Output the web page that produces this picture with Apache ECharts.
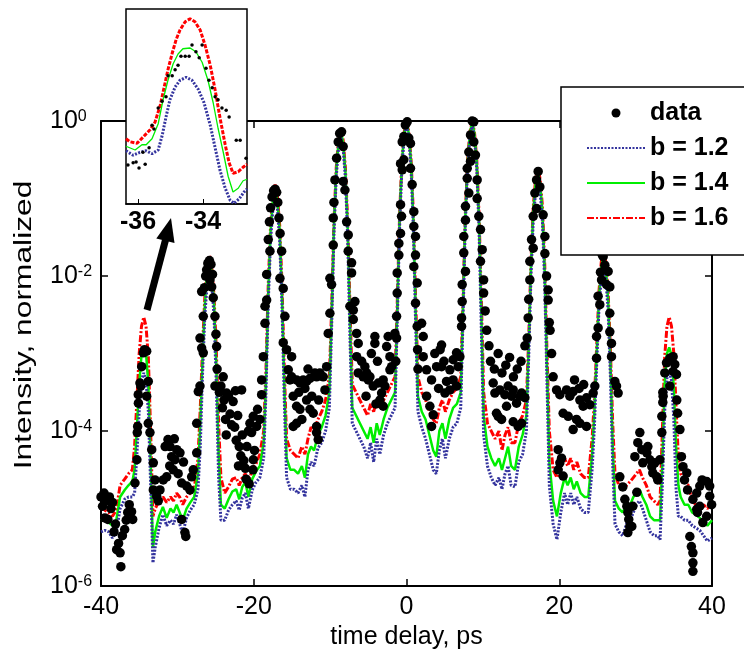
<!DOCTYPE html>
<html><head><meta charset="utf-8">
<script src="https://cdn.jsdelivr.net/npm/echarts@6/dist/echarts.min.js"></script>
<style>html,body{margin:0;padding:0;background:#fff;}#c{width:744px;height:655px;}</style>
</head><body><div id="c"></div>
<script>
// ---------------- data (time in ps, intensity given as log10 of normalized intensity) ----------------
const xTickValues = [-40, -20, 0, 20, 40];
const insetTickValues = [-36, -34];

const fitT = [
-40,-39.5,-39,-38.5,-38,-37.5,-36.9,
-36.4,-35.9,-35.6,-35.3,-35.0,-34.7,-34.4,-34.1,-33.8,-33.5,-33.2,-32.9,-32.4,
-31.9,-31.4,-30.9,-30.5,-30.1,-29.7,-29.3,-28.8,-28.3,
-27.8,-27.3,-27.0,-26.7,-26.4,-26.1,-25.8,-25.5,-25.2,-24.9,-24.6,-24.3,-23.8,
-23.3,-22.8,-22.3,-21.9,-21.5,-21.1,-20.7,-20.2,-19.7,
-19.2,-18.7,-18.4,-18.1,-17.8,-17.5,-17.2,-16.9,-16.6,-16.3,-16.0,-15.7,-15.2,
-14.7,-14.2,-13.7,-13.3,-12.9,-12.5,-12.1,-11.6,-11.1,
-10.6,-10.1,-9.8,-9.5,-9.2,-8.9,-8.6,-8.3,-8.0,-7.7,-7.4,-7.1,-6.6,
-6.1,-5.6,-5.1,-4.7,-4.3,-3.9,-3.5,-3.0,-2.5,
-2.0,-1.5,-1.2,-0.9,-0.6,-0.3,0,0.3,0.6,0.9,1.2,1.5,2.0,
2.5,3.0,3.5,3.9,4.3,4.7,5.1,5.6,6.1,
6.6,7.1,7.4,7.7,8.0,8.3,8.6,8.9,9.2,9.5,9.8,10.1,10.6,
11.1,11.6,12.1,12.5,12.9,13.3,13.7,14.2,14.7,
15.2,15.7,16.0,16.3,16.6,16.9,17.2,17.5,17.8,18.1,18.4,18.7,19.2,
19.7,20.2,20.7,21.1,21.5,21.9,22.3,22.8,23.3,
23.8,24.3,24.6,24.9,25.2,25.5,25.8,26.1,26.4,26.7,27.0,27.3,27.8,
28.3,28.8,29.3,29.7,30.1,30.5,30.9,31.4,31.9,
32.4,32.9,33.2,33.5,33.8,34.1,34.4,34.7,35.0,35.3,35.6,35.9,36.4,
36.9,37.4,37.9,38.4,38.9,39.4,40
];

const fitB16 = [
-4.98,-5.02,-5.05,-5.1,-5.02,-4.7,-4.62,
-4.55,-4.5,-4.2,-3.6,-3.0,-2.65,-2.53,-2.65,-3.05,-4.0,-5.1,-5.0,-4.9,
-4.85,-4.92,-4.85,-4.9,-4.8,-4.85,-4.95,-4.85,-4.8,
-4.75,-4.35,-3.7,-2.9,-2.25,-1.88,-1.73,-1.88,-2.25,-2.95,-3.9,-4.6,-4.8,
-4.72,-4.62,-4.6,-4.7,-4.6,-4.55,-4.68,-4.5,-4.42,
-4.3,-4.0,-3.2,-2.1,-1.35,-0.98,-0.82,-0.98,-1.35,-2.1,-3.2,-4.1,-4.25,
-4.3,-4.35,-4.2,-4.3,-4.1,-3.95,-4.0,-3.85,-3.75,
-3.6,-3.3,-2.4,-1.3,-0.6,-0.24,-0.1,-0.24,-0.6,-1.3,-2.4,-3.4,-3.5,
-3.6,-3.7,-3.8,-3.65,-3.75,-3.6,-3.7,-3.6,-3.5,
-3.4,-3.3,-2.3,-1.2,-0.5,-0.14,0,-0.14,-0.5,-1.2,-2.3,-3.3,-3.5,
-3.6,-3.75,-3.85,-3.9,-3.7,-3.6,-3.75,-3.6,-3.5,
-3.45,-3.3,-2.3,-1.2,-0.5,-0.14,0,-0.14,-0.5,-1.2,-2.3,-3.5,-3.9,
-4.0,-4.1,-4.0,-4.25,-4.05,-3.95,-4.15,-4.15,-3.9,
-3.8,-3.6,-2.8,-1.8,-1.1,-0.75,-0.6,-0.75,-1.1,-1.85,-3.0,-4.0,-4.5,
-4.6,-4.45,-4.35,-4.45,-4.35,-4.5,-4.4,-4.55,-4.6,
-4.6,-4.1,-3.6,-2.9,-2.2,-1.82,-1.65,-1.82,-2.2,-2.95,-3.9,-4.55,-4.7,
-4.75,-4.7,-4.65,-4.6,-4.55,-4.5,-4.6,-4.7,-4.85,
-4.9,-4.95,-4.9,-4.0,-3.05,-2.65,-2.53,-2.65,-3.0,-3.7,-4.35,-4.55,-4.65,
-4.7,-4.9,-4.95,-5.0,-4.95,-5.0,-4.92
];

const fitB14 = [
-5.15,-5.12,-5.18,-5.22,-5.15,-4.85,-4.76,
-4.7,-4.65,-4.5,-3.95,-3.4,-3.02,-2.92,-3.0,-3.4,-4.4,-5.5,-5.3,-5.1,
-4.98,-5.12,-5.0,-5.05,-4.95,-5.05,-5.15,-5.0,-4.92,
-4.85,-4.55,-3.9,-3.05,-2.35,-1.95,-1.8,-1.95,-2.35,-3.15,-4.3,-4.95,-5.0,
-4.88,-4.78,-4.75,-4.88,-4.72,-4.66,-4.85,-4.62,-4.52,
-4.45,-4.15,-3.35,-2.2,-1.42,-1.04,-0.88,-1.04,-1.42,-2.25,-3.4,-4.35,-4.5,
-4.5,-4.55,-4.45,-4.6,-4.3,-4.2,-4.25,-4.05,-3.95,
-3.8,-3.5,-2.5,-1.36,-0.64,-0.28,-0.13,-0.28,-0.65,-1.38,-2.6,-3.7,-3.8,
-3.9,-4.0,-4.1,-3.95,-4.15,-3.9,-4.05,-3.85,-3.7,
-3.6,-3.5,-2.4,-1.25,-0.53,-0.16,-0.01,-0.16,-0.54,-1.28,-2.45,-3.55,-3.75,
-3.85,-4.05,-4.25,-4.33,-4.0,-3.9,-4.1,-3.85,-3.7,
-3.65,-3.5,-2.4,-1.25,-0.53,-0.16,-0.01,-0.16,-0.54,-1.28,-2.5,-3.8,-4.2,
-4.35,-4.45,-4.35,-4.5,-4.35,-4.2,-4.45,-4.5,-4.2,
-4.05,-3.8,-2.9,-1.87,-1.16,-0.81,-0.66,-0.81,-1.17,-1.95,-3.2,-4.4,-4.9,
-5.1,-4.8,-4.6,-4.7,-4.6,-4.75,-4.65,-4.8,-4.85,
-4.85,-4.3,-3.75,-3.0,-2.28,-1.9,-1.72,-1.9,-2.3,-3.1,-4.2,-4.9,-5.0,
-5.05,-4.95,-4.95,-4.85,-4.8,-4.75,-4.85,-4.95,-5.1,
-5.15,-5.15,-5.15,-4.4,-3.4,-3.0,-2.92,-3.02,-3.45,-4.2,-4.7,-4.85,-4.95,
-4.95,-5.05,-5.08,-5.12,-5.18,-5.22,-5.15
];

const fitB12 = [
-5.3,-5.28,-5.3,-5.38,-5.3,-5.0,-4.88,
-4.85,-4.85,-4.8,-4.3,-3.75,-3.35,-3.25,-3.35,-3.75,-4.7,-5.7,-5.5,-5.25,
-5.08,-5.22,-5.15,-5.2,-5.08,-5.2,-5.32,-5.12,-5.02,
-4.95,-4.75,-4.2,-3.25,-2.5,-2.1,-1.95,-2.1,-2.52,-3.4,-4.6,-5.15,-5.15,
-5.02,-4.95,-4.9,-5.02,-4.86,-4.8,-5.0,-4.76,-4.66,
-4.6,-4.35,-3.5,-2.35,-1.55,-1.14,-0.98,-1.14,-1.56,-2.4,-3.6,-4.6,-4.75,
-4.75,-4.8,-4.7,-4.85,-4.5,-4.4,-4.45,-4.22,-4.15,
-4.0,-3.7,-2.65,-1.46,-0.72,-0.35,-0.2,-0.35,-0.74,-1.5,-2.8,-3.9,-4.0,
-4.1,-4.2,-4.35,-4.15,-4.4,-4.1,-4.3,-4.05,-3.9,
-3.8,-3.7,-2.55,-1.35,-0.6,-0.21,-0.05,-0.21,-0.62,-1.4,-2.65,-3.75,-3.95,
-4.1,-4.3,-4.5,-4.55,-4.25,-4.1,-4.35,-4.1,-3.95,
-3.9,-3.7,-2.55,-1.35,-0.6,-0.21,-0.05,-0.21,-0.62,-1.4,-2.7,-4.05,-4.45,
-4.6,-4.7,-4.6,-4.75,-4.55,-4.45,-4.7,-4.72,-4.4,
-4.3,-4.0,-3.05,-2.0,-1.28,-0.92,-0.76,-0.92,-1.3,-2.1,-3.4,-4.7,-5.2,
-5.4,-5.05,-4.8,-4.95,-4.8,-4.95,-4.85,-5.0,-5.05,
-5.05,-4.5,-3.95,-3.15,-2.42,-2.02,-1.85,-2.03,-2.45,-3.3,-4.45,-5.2,-5.3,
-5.35,-5.2,-5.15,-5.05,-4.95,-4.9,-5.0,-5.15,-5.3,
-5.35,-5.35,-5.4,-4.7,-3.75,-3.32,-3.22,-3.35,-3.85,-4.75,-5.1,-5.1,-5.15,
-5.15,-5.22,-5.25,-5.28,-5.35,-5.42,-5.38
];

// measured points: [time (ps), log10 intensity]
const measuredPts = [
[-40.0,-4.85],[-39.8,-4.97],[-39.6,-4.8],[-39.5,-5.12],[-39.3,-4.9],[-39.1,-5.14],[-38.9,-4.85],[-38.7,-5.0],[-38.5,-4.92],[-38.3,-5.3],[-38.1,-5.2],[-37.95,-5.53],[-37.7,-5.45],[-37.5,-5.57],[-37.4,-5.75],[-37.2,-5.35],[-36.9,-5.27],[-36.7,-5.15],[-36.5,-5.05],[-36.3,-4.95],[-36.0,-5.04],[-35.85,-5.14],[-35.55,-4.67],[-35.3,-4.37],[-35.25,-4.02],[-35.2,-3.94],[-35.12,-3.53],[-35.1,-3.64],[-34.9,-3.38],[-34.8,-3.42],[-34.67,-3.17],[-34.46,-2.99],[-34.3,-2.95],[-34.02,-2.97],[-34.02,-3.55],[-33.81,-3.36],
[-33.81,-3.9],[-33.59,-4.02],[-33.36,-4.24],[-33.15,-4.41],[-33.15,-4.76],[-32.93,-4.63],[-32.71,-4.84],[-32.5,-4.9],[-32.28,-4.76],[-31.85,-4.63],[-31.6,-4.2],[-31.4,-4.59],[-31.23,-4.11],[-31.0,-4.45],[-30.97,-4.2],[-30.75,-4.33],[-30.54,-4.5],[-30.4,-4.1],[-30.31,-4.37],[-30.09,-4.24],[-29.9,-4.55],[-29.66,-4.28],[-29.44,-4.67],[-29.44,-5.14],[-29.2,-4.4],[-29.01,-5.31],[-28.9,-5.36],[-28.78,-4.71],[-28.35,-4.76],[-28.13,-4.59],[-27.92,-4.5],[-27.47,-4.28],[-27.47,-3.9],[-27.26,-3.49],
[-27.04,-3.42],[-27.04,-2.8],[-26.82,-2.93],[-26.82,-2.2],[-26.61,-2.52],[-26.61,-2.99],[-26.45,-2.15],[-26.3,-2.0],[-26.17,-1.92],[-26.0,-1.84],[-25.96,-1.83],[-25.8,-1.8],[-25.73,-2.05],[-25.6,-1.85],[-25.51,-2.14],[-25.4,-1.98],[-25.3,-2.28],[-25.08,-2.52],[-25.08,-3.42],[-24.95,-2.75],[-24.86,-2.91],[-24.8,-3.2],
[-24.5,-3.5],[-24.3,-3.42],[-24.1,-3.7],[-24.0,-3.3],[-23.9,-3.6],[-23.7,-3.85],[-23.6,-4.05],[-23.55,-3.51],[-23.3,-3.55],[-23.1,-3.78],[-22.9,-3.92],[-22.7,-3.62],[-22.5,-3.95],[-22.4,-3.48],[-22.3,-4.12],[-22.1,-3.8],[-22.0,-4.45],[-21.9,-4.2],[-21.7,-4.32],[-21.59,-3.47],[-21.5,-4.05],[-21.3,-4.38],[-21.1,-4.48],[-21.0,-4.62],[-20.9,-4.2],[-20.7,-4.0],[-20.6,-4.68],[-20.5,-3.9],[-20.28,-4.02],[-20.1,-4.5],[-20.06,-3.81],[-20.06,-4.37],[-19.9,-4.25],[-19.62,-3.94],[-19.5,-3.72],[-19.19,-3.85],
[-18.97,-3.34],[-18.97,-3.53],[-18.75,-3.04],[-18.53,-2.61],[-18.53,-2.39],[-18.31,-2.31],[-18.31,-1.98],[-18.1,-1.53],[-17.95,-1.3],[-17.88,-1.68],[-17.8,-1.12],[-17.6,-0.98],[-17.4,-0.9],[-17.2,-0.88],[-17.0,-0.92],[-16.85,-1.05],[-16.7,-1.25],[-16.55,-1.45],[-16.35,-1.68],[-16.57,-2.03],[-16.14,-2.16],[-15.92,-2.52],[-16.14,-2.86],[-15.7,-2.95],[-15.04,-3.04],[-15.26,-3.34],
[-15.48,-3.21],[-15.04,-3.3],[-14.39,-3.34],[-13.95,-3.38],[-13.52,-3.34],[-13.08,-3.36],[-12.64,-3.32],[-11.77,-3.3],[-11.34,-3.25],[-10.9,-3.3],[-14.83,-3.55],[-14.39,-3.68],[-13.95,-3.72],[-13.08,-3.6],[-12.64,-3.72],[-12.21,-3.77],[-11.77,-3.94],[-11.77,-4.02],[-14.39,-3.9],[-14.83,-3.94],[-11.56,-4.11],[-10.68,-3.47],[-10.46,-3.17],[-14.1,-3.5],[-13.3,-3.45],[-12.9,-3.2],[-12.4,-3.55],[-12.0,-3.25],[-13.7,-3.85],[-11.5,-3.6],
[-10.25,-2.74],[-10.03,-2.48],[-10.03,-2.03],[-9.81,-2.11],[-9.59,-1.6],[-9.59,-1.25],[-9.37,-0.76],[-9.5,-1.05],[-9.15,-0.48],[-8.94,-0.27],[-8.75,-0.16],[-8.5,-0.14],[-8.29,-0.33],[-8.29,-0.78],[-8.06,-0.89],[-7.84,-1.3],[-7.63,-1.47],[-7.63,-1.68],[-7.19,-1.83],[-7.19,-1.96],[-6.97,-2.44],[-6.75,-2.33],[-7.41,-2.39],[-6.97,-2.56],[-6.53,-2.74],
[-6.32,-2.87],[-6.53,-3.04],[-5.88,-3.1],[-5.45,-3.17],[-5.67,-3.3],[-5.0,-3.34],[-6.32,-3.25],[-4.14,-2.78],[-4.14,-2.87],[-2.6,-2.91],[-2.4,-2.78],[-2.17,-3.04],[-1.95,-3.17],[-2.17,-3.21],[-3.05,-3.34],[-2.83,-3.42],[-3.26,-3.51],[-3.48,-3.6],[-3.05,-3.68],[-3.7,-3.38],[-4.36,-3.42],[-4.79,-3.3],[-5.22,-3.25],[-4.6,-3.0],[-3.8,-3.1],[-5.3,-3.55],[-4.0,-3.65],
[-1.52,-2.74],[-1.3,-2.52],[-1.22,-2.22],[-1.22,-1.96],[-1.4,-3.1],[-1.3,-2.8],[-1.0,-1.73],[-1.0,-1.58],[-0.78,-1.45],[-0.78,-1.08],[-0.65,-1.23],[-0.78,-0.55],[-0.56,-0.63],[-0.56,-0.27],[-0.35,-0.5],[-0.35,-0.2],[-0.15,-0.05],[0.09,-0.01],[0.3,-0.22],[0.52,-0.29],[0.52,-0.61],[0.74,-0.82],[0.96,-1.17],[0.96,-1.36],[1.18,-1.49],[1.18,-1.73],[0.96,-1.88],[1.4,-2.09],[1.18,-2.35],[1.4,-2.65],[1.45,-2.95],[1.5,-3.2],
[1.98,-2.61],[2.19,-2.78],[2.19,-3.04],[2.63,-3.21],[3.28,-3.34],[3.94,-3.17],[4.59,-3.17],[4.59,-2.89],[4.4,-2.95],[5.68,-3.21],[6.11,-3.08],[6.55,-2.99],[6.77,-3.17],[6.99,-3.04],[6.11,-3.34],[6.55,-3.42],[5.24,-3.36],[5.68,-3.47],[5.03,-3.51],[2.63,-3.55],[3.06,-3.68],[3.5,-3.79],[3.28,-3.94],[3.7,-3.0],[4.2,-3.45],[4.9,-3.1],
[7.21,-2.65],[7.21,-2.54],[7.29,-2.33],[7.29,-2.11],[7.5,-1.7],[7.5,-1.49],[7.72,-1.94],[7.72,-1.28],[7.72,-1.1],[7.95,-0.61],[7.95,-0.74],[8.16,-0.93],[8.16,-0.4],[8.38,-0.18],[8.38,-0.52],[8.6,0],[8.81,-0.01],[8.81,-0.27],[9.03,-0.44],[9.25,-0.76],[9.25,-1.0],[9.47,-1.23],[9.69,-1.4],[9.69,-1.81],[9.91,-1.66],[10.1,-2.05],[10.1,-2.22],[10.3,-2.45],[10.5,-2.7],
[11.35,-3.38],[11.57,-3.51],[12.23,-3.47],[12.88,-3.53],[13.31,-3.42],[13.76,-3.55],[13.97,-3.47],[14.41,-3.64],[14.84,-3.55],[15.07,-3.51],[15.5,-3.57],[11.78,-3.77],[12.0,-3.81],[12.45,-3.85],[13.97,-3.88],[14.62,-3.94],[15.07,-3.9],[13.1,-3.68],[11.0,-3.1],[11.5,-3.2],[12.0,-3.0],[12.5,-3.25],[13.0,-3.15],[13.5,-3.05],[14.0,-3.3],[14.5,-3.2],[15.0,-3.1],[10.8,-2.9],
[15.5,-2.9],[15.93,-2.54],[15.8,-2.8],[16.15,-2.05],[16.15,-1.81],[16.37,-1.53],[16.59,-1.64],[16.59,-1.23],[16.81,-0.93],[17.03,-0.76],[17.03,-1.13],[17.24,-0.65],[17.46,-0.85],[17.89,-1.21],[18.12,-1.49],[18.12,-1.71],[18.34,-2.0],[18.55,-2.18],[18.55,-2.31],[18.7,-2.6],[18.8,-2.7],[19.0,-3.0],[19.2,-3.3],[16.0,-2.3],
[19.65,-3.47],[20.08,-3.53],[20.96,-3.47],[21.39,-3.55],[21.82,-3.49],[22.7,-3.6],[23.13,-3.68],[23.57,-3.57],[24.0,-3.66],[24.44,-3.51],[20.51,-3.77],[21.17,-3.81],[22.26,-3.85],[22.7,-3.9],[23.57,-3.94],[21.82,-3.98],[19.86,-4.24],[20.3,-4.35],[20.08,-4.41],[20.51,-4.58],[19.86,-4.5],[22.0,-3.34],[22.6,-3.45],[23.2,-3.4],
[24.66,-3.42],[24.88,-3.06],[24.88,-2.78],[25.09,-2.67],[25.09,-2.26],[25.31,-2.37],[25.4,-1.95],[25.54,-2.05],[25.6,-1.72],[25.75,-1.75],[25.97,-1.86],[26.19,-2.11],[26.4,-1.94],[26.62,-2.14],[26.62,-2.48],[26.62,-2.72],[26.84,-2.87],[26.84,-3.04],[27.28,-3.36],[27.5,-3.42],[27.71,-3.51],
[27.93,-4.59],[28.32,-4.72],[28.59,-4.88],[28.85,-4.97],[28.98,-5.05],[29.1,-5.14],[29.24,-5.23],[28.98,-5.31],[29.5,-5.23],[29.63,-4.97],[30.16,-4.79],[29.9,-4.33],[30.29,-4.15],[30.55,-4.02],[30.81,-4.24],[30.94,-4.41],[31.47,-4.28],[31.6,-4.2],[31.86,-4.37],[32.12,-4.46],[32.25,-4.54],[32.51,-4.41],[32.77,-4.59],[32.9,-4.63],[33.17,-4.37],[33.43,-4.02],[33.43,-3.81],[33.56,-3.63],[33.56,-3.5],
[33.6,-3.55],[33.82,-3.25],[34.04,-3.12],[34.48,-3.06],[34.91,-3.04],[35.13,-3.14],[34.91,-3.23],[35.35,-3.27],[34.48,-3.42],[35.39,-3.6],[35.5,-3.77],[35.8,-3.98],[36.0,-4.33],[36.2,-4.46],[36.7,-4.54],[36.4,-4.63],[36.8,-4.76],[37.5,-4.88],[38.0,-4.8],[38.4,-4.71],[38.7,-4.63],[39.3,-4.65],[39.7,-4.71],[39.95,-4.95],[39.7,-4.84],[38.4,-4.97],[38.0,-5.01],[37.1,-5.36],[37.3,-5.49],[37.5,-5.57],[37.5,-5.7],[37.5,-5.81],[39.3,-5.1],[38.8,-5.18],[38.1,-5.05]
];

// inset (zoom of the first satellite peak): [time (ps), log10 intensity]
const insetB16 = [[-36.37,-4.13],[-36.25,-4.17],[-36.03,-4.19],[-35.85,-4.11],[-35.63,-4.01],[-35.48,-3.91],[-35.32,-3.69],[-35.2,-3.45],[-35.08,-3.21],[-34.95,-2.99],[-34.83,-2.81],[-34.71,-2.68],[-34.55,-2.57],[-34.4,-2.53],[-34.25,-2.57],[-34.09,-2.68],[-33.94,-2.88],[-33.78,-3.15],[-33.63,-3.48],[-33.48,-3.85],[-33.32,-4.21],[-33.2,-4.45],[-33.08,-4.59],[-32.92,-4.57],[-32.77,-4.51],[-32.65,-4.47]];
const insetB14 = [[-36.37,-4.23],[-36.09,-4.28],[-35.88,-4.21],[-35.75,-4.21],[-35.57,-4.13],[-35.38,-3.93],[-35.23,-3.61],[-35.08,-3.35],[-34.92,-3.13],[-34.77,-3.0],[-34.62,-2.93],[-34.4,-2.92],[-34.22,-2.97],[-34.03,-3.11],[-33.85,-3.35],[-33.69,-3.65],[-33.54,-3.99],[-33.38,-4.31],[-33.23,-4.63],[-33.08,-4.84],[-32.92,-4.79],[-32.77,-4.69],[-32.65,-4.67]];
const insetB12 = [[-36.37,-4.29],[-36.15,-4.35],[-35.94,-4.31],[-35.75,-4.29],[-35.57,-4.33],[-35.38,-4.28],[-35.26,-4.09],[-35.14,-3.84],[-35.02,-3.61],[-34.86,-3.44],[-34.71,-3.35],[-34.52,-3.31],[-34.34,-3.35],[-34.15,-3.47],[-33.97,-3.65],[-33.78,-3.95],[-33.63,-4.25],[-33.48,-4.55],[-33.32,-4.79],[-33.17,-4.95],[-33.05,-4.99],[-32.89,-4.93],[-32.74,-4.84],[-32.65,-4.8]];
const insetMeasured = [[-36.31,-4.48],[-36.15,-4.45],[-36.06,-4.44],[-35.97,-4.52],[-35.78,-4.47],[-35.85,-4.31],[-35.66,-4.25],[-35.57,-3.95],[-35.51,-4.0],[-35.38,-3.72],[-35.26,-3.63],[-35.14,-3.57],[-35.08,-3.29],[-34.95,-3.29],[-34.86,-3.21],[-34.77,-3.15],[-34.68,-3.03],[-34.55,-3.03],[-34.43,-3.03],[-34.34,-2.88],[-34.22,-2.97],[-34.12,-3.05],[-34.03,-2.88],[-33.91,-3.19],[-33.82,-3.35],[-33.72,-3.45],[-33.63,-3.57],[-33.54,-3.61],[-33.42,-3.72],[-33.29,-3.75],[-33.2,-3.84],[-32.98,-4.15],[-32.86,-4.15],[-32.68,-4.39]];

// ---------------- chart ----------------
const FONT = '"Liberation Sans", Arial, Helvetica, sans-serif';
const pow10 = e => Math.pow(10, e);
const fromFit = arr => fitT.map((t, i) => [t, pow10(arr[i])]);
const fromPairs = arr => arr.map(p => [p[0], pow10(p[1])]);

const RED = '#ff0000', GREEN = '#00ee00', BLUE = '#34349e';
const axisLineStyle = {color: '#000', width: 2};
const tickStyle = {color: '#000', width: 1.5};

const chart = echarts.init(document.getElementById('c'));
chart.setOption({
  animation: false,
  backgroundColor: '#fff',
  textStyle: {fontFamily: FONT},
  grid: [
    {left: 101, top: 121, width: 611, height: 466, show: false},
    {left: 126, top: 9, width: 121, height: 195, show: true, backgroundColor: '#fff',
     borderColor: '#000', borderWidth: 1.5, z: 10}
  ],
  xAxis: [
    {gridIndex: 0, type: 'value', min: -40, max: 40, interval: 20, position: 'bottom',
     axisLine: {onZero: false, lineStyle: axisLineStyle},
     axisTick: {inside: true, length: 7, lineStyle: tickStyle},
     axisLabel: {fontSize: 25, color: '#000', fontFamily: FONT, margin: 9,
                 customValues: xTickValues},
     splitLine: {show: false},
     name: 'time delay, ps', nameLocation: 'middle', nameGap: 33,
     nameTextStyle: {fontSize: 25, color: '#000', fontFamily: FONT}},
    {gridIndex: 0, type: 'value', min: -40, max: 40, interval: 20, position: 'top',
     axisLine: {onZero: false, lineStyle: axisLineStyle},
     axisTick: {inside: true, length: 7, lineStyle: tickStyle},
     axisLabel: {show: false}, splitLine: {show: false}},
    {gridIndex: 1, type: 'value', min: -36.37, max: -32.65, position: 'bottom', z: 11,
     axisLine: {onZero: false, lineStyle: {color: '#000', width: 1.5}},
     axisTick: {inside: true, length: 5, lineStyle: {color: '#000', width: 1}, customValues: insetTickValues},
     axisLabel: {customValues: insetTickValues, fontSize: 25, fontWeight: 'bold', color: '#000',
                 fontFamily: FONT, margin: 6},
     splitLine: {show: false}}
  ],
  yAxis: [
    {gridIndex: 0, type: 'log', logBase: 100, min: 1e-6, max: 1, position: 'left',
     axisLine: {onZero: false, lineStyle: axisLineStyle},
     axisTick: {inside: true, length: 7, lineStyle: tickStyle},
     splitLine: {show: false}, minorTick: {show: false},
     axisLabel: {
       align: 'left', margin: 51,
       formatter: v => '{b|10}{s|' + Math.round(Math.log10(v)) + '}',
       rich: {
         b: {fontSize: 25, fontFamily: FONT, color: '#000', lineHeight: 25, padding: [0, 0, 6, 0], verticalAlign: 'top'},
         s: {fontSize: 16, fontFamily: FONT, color: '#000', lineHeight: 4, verticalAlign: 'top'}
       }
     }},
    {gridIndex: 0, type: 'log', logBase: 100, min: 1e-6, max: 1, position: 'right',
     axisLine: {onZero: false, lineStyle: axisLineStyle},
     axisTick: {inside: true, length: 7, lineStyle: tickStyle},
     axisLabel: {show: false}, splitLine: {show: false}},
    {gridIndex: 1, type: 'log', min: pow10(-5), max: pow10(-2.4), show: false}
  ],
  legend: {
    left: 561, top: 87, orient: 'vertical',
    padding: [12, 40, 23, 25], itemGap: 7, itemWidth: 58, itemHeight: 9,
    backgroundColor: '#fff', borderColor: '#000', borderWidth: 1.5,
    textStyle: {fontSize: 25, fontWeight: 'bold', color: '#000', fontFamily: FONT, lineHeight: 28},
    data: ['data', 'b = 1.2', 'b = 1.4', 'b = 1.6'],
    z: 8
  },
  series: [
    {name: 'b = 1.6', type: 'line', xAxisIndex: 0, yAxisIndex: 0, data: fromFit(fitB16),
     symbol: 'none', itemStyle: {color: 'rgba(0,0,0,0)'},
     lineStyle: {color: RED, width: 3, type: [7, 2, 2, 2]}, z: 2},
    {name: 'b = 1.4', type: 'line', xAxisIndex: 0, yAxisIndex: 0, data: fromFit(fitB14),
     symbol: 'none', itemStyle: {color: 'rgba(0,0,0,0)'},
     lineStyle: {color: GREEN, width: 2.5}, z: 2},
    {name: 'b = 1.2', type: 'line', xAxisIndex: 0, yAxisIndex: 0, data: fromFit(fitB12),
     symbol: 'none', itemStyle: {color: 'rgba(0,0,0,0)'},
     lineStyle: {color: BLUE, width: 3, type: [2, 1.5]}, z: 2},
    {name: 'data', type: 'scatter', xAxisIndex: 0, yAxisIndex: 0, data: fromPairs(measuredPts),
     symbol: 'circle', symbolSize: 9.5, itemStyle: {color: '#000', opacity: 1}, z: 3},

    {name: 'b = 1.6', type: 'line', xAxisIndex: 2, yAxisIndex: 2, data: fromPairs(insetB16),
     symbol: 'none', itemStyle: {color: 'rgba(0,0,0,0)'},
     lineStyle: {color: RED, width: 3, type: [4, 1.5]}, z: 12},
    {name: 'b = 1.4', type: 'line', xAxisIndex: 2, yAxisIndex: 2, data: fromPairs(insetB14),
     symbol: 'none', itemStyle: {color: 'rgba(0,0,0,0)'},
     lineStyle: {color: GREEN, width: 1.3}, z: 12},
    {name: 'b = 1.2', type: 'line', xAxisIndex: 2, yAxisIndex: 2, data: fromPairs(insetB12),
     symbol: 'none', itemStyle: {color: 'rgba(0,0,0,0)'},
     lineStyle: {color: BLUE, width: 3, type: [2, 1.5]}, z: 12},
    {name: 'data', type: 'scatter', xAxisIndex: 2, yAxisIndex: 2, data: fromPairs(insetMeasured),
     symbol: 'circle', symbolSize: 3.5, itemStyle: {color: '#000', opacity: 1}, z: 13}
  ],
  graphic: [
    {type: 'text', x: 25, y: 325, rotation: Math.PI / 2, scaleX: 1.38, z: 20,
     style: {text: 'Intensity, normalized', font: '23px ' + FONT, fill: '#000', align: 'center', verticalAlign: 'middle'}},
    {type: 'line', z: 20, shape: {x1: 147, y1: 310, x2: 165.5, y2: 240},
     style: {stroke: '#000', lineWidth: 7}},
    {type: 'polygon', z: 20, shape: {points: [[171, 218], [156.3, 238.5], [174.5, 243]]},
     style: {fill: '#000'}}
  ]
});
</script>
</body></html>
